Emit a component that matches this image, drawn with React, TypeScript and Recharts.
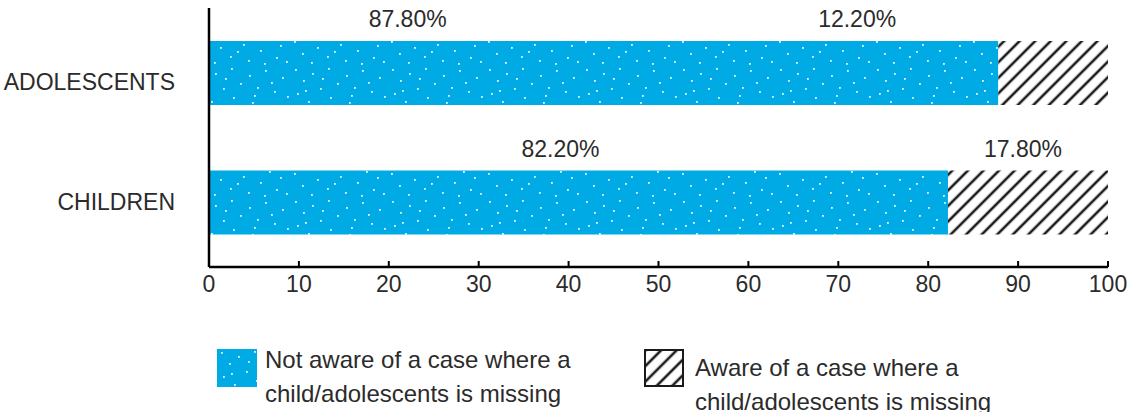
import { BarChart, Bar, XAxis, YAxis, LabelList } from 'recharts';

const groups = ['ADOLESCENTS', 'CHILDREN'];
const notAware = [87.8, 82.2];
const aware = [12.2, 17.8];
const xTicks = [0, 10, 20, 30, 40, 50, 60, 70, 80, 90, 100];
const legendNotAware = ['Not aware of a case where a', 'child/adolescents is missing'];
const legendAware = ['Aware of a case where a', 'child/adolescents is missing'];

const BLUE = '#00aae4';
const INK = '#2b2b2b';
const FONT = '"Liberation Sans", Arial, sans-serif';

// label nudges (px) for each row, so the percentages sit where the report put them
const notAwareShift = [-196, -18];
const awareShift = [-196, -5];
// the ADOLESCENTS caption sits a little below its bar's centre line
const groupLabelDy = [9, 0];

// speckles for the blue fill (one 97x66 tile)
const SPECKS: [number, number][] = [
  [4, 3], [21, 7], [37, 2], [55, 9], [71, 4], [88, 11], [12, 14], [46, 17],
  [63, 21], [80, 25], [29, 22], [6, 27], [93, 30], [39, 31], [58, 36], [17, 35],
  [75, 39], [86, 45], [3, 41], [49, 44], [26, 47], [66, 50], [11, 53], [36, 56],
  [54, 60], [82, 57], [20, 62], [70, 63], [92, 61], [43, 51], [60, 29], [31, 12],
  [77, 16], [14, 24],
];

const data = groups.map((g, i) => ({ group: g, notAware: notAware[i], aware: aware[i] }));

function Patterns({ prefix }: { prefix: string }) {
  return (
    <defs>
      <pattern id={`${prefix}-dots`} patternUnits="userSpaceOnUse" width={97} height={66}>
        <rect width={97} height={66} fill={BLUE} />
        {SPECKS.map(([x, y], i) => (
          <rect key={i} x={x} y={y} width={1.8} height={1.8} fill="#fff" opacity={0.9} />
        ))}
      </pattern>
      <pattern
        id={`${prefix}-hatch`}
        patternUnits="userSpaceOnUse"
        width={11}
        height={11}
        patternTransform="rotate(45)"
      >
        <rect width={11} height={11} fill="#fff" />
        <line x1={2} y1={0} x2={2} y2={11} stroke="#1a1a1a" strokeWidth={2.6} />
      </pattern>
    </defs>
  );
}

const makeLabel = (shift: number[]) => (props: any) => {
  const { x, y, width, value, index } = props;
  return (
    <text
      x={x + width / 2 + shift[index]}
      y={y - 22}
      textAnchor="middle"
      dominantBaseline="central"
      fill={INK}
      fontSize={23}
      fontFamily={FONT}
    >
      {`${Number(value).toFixed(2)}%`}
    </text>
  );
};

const XTick = (props: any) => {
  const { x, y, payload } = props;
  return (
    <g>
      {payload.value !== 0 && <line x1={x} y1={y - 6} x2={x} y2={y} stroke="#000" strokeWidth={2} />}
      <text x={x} y={y + 17} textAnchor="middle" dominantBaseline="central" fill={INK} fontSize={23} fontFamily={FONT}>
        {payload.value}
      </text>
    </g>
  );
};

const YTick = (props: any) => {
  const { x, y, payload, index } = props;
  return (
    <text
      x={x}
      y={y + (groupLabelDy[index] ?? 0)}
      textAnchor="end"
      dominantBaseline="central"
      fill={INK}
      fontSize={23}
      fontFamily={FONT}
    >
      {payload.value}
    </text>
  );
};

function LegendItem({ kind, lines, left, top, textTop }: { kind: 'dots' | 'hatch'; lines: string[]; left: number; top: number; textTop: number }) {
  return (
    <>
      <svg style={{ position: 'absolute', left, top }} width={40} height={38}>
        <Patterns prefix={`lg-${kind}`} />
        <rect
          x={kind === 'hatch' ? 1 : 0}
          y={kind === 'hatch' ? 1 : 0}
          width={kind === 'hatch' ? 38 : 40}
          height={kind === 'hatch' ? 36 : 38}
          fill={`url(#lg-${kind}-${kind})`}
          stroke={kind === 'hatch' ? '#1a1a1a' : 'none'}
          strokeWidth={2}
        />
      </svg>
      <div
        style={{
          position: 'absolute',
          left: left + (kind === 'hatch' ? 51 : 48),
          top: textTop,
          fontFamily: FONT,
          fontSize: 24,
          lineHeight: '34px',
          color: INK,
          whiteSpace: 'nowrap',
        }}
      >
        {lines.map((l) => (
          <div key={l}>{l}</div>
        ))}
      </div>
    </>
  );
}

export default function App() {
  return (
    <div style={{ position: 'absolute', left: 0, top: 0, width: 1128, height: 412, background: '#fff', overflow: 'hidden' }}>
      <BarChart
        width={1128}
        height={412}
        data={data}
        layout="vertical"
        margin={{ top: 8, right: 20, bottom: 115, left: 0 }}
      >
        <Patterns prefix="bar" />
        <XAxis
          type="number"
          domain={[0, 100]}
          ticks={xTicks}
          height={30}
          axisLine={{ stroke: '#000', strokeWidth: 2.5 }}
          tickLine={false}
          tickSize={0}
          tickMargin={0}
          tick={<XTick />}
          interval={0}
        />
        <YAxis
          type="category"
          dataKey="group"
          width={209}
          axisLine={{ stroke: '#000', strokeWidth: 2.5 }}
          tickLine={false}
          tickSize={0}
          tickMargin={34}
          tick={<YTick />}
        />
        <Bar dataKey="notAware" stackId="a" barSize={64} fill="url(#bar-dots)" isAnimationActive={false}>
          <LabelList dataKey="notAware" content={makeLabel(notAwareShift)} />
        </Bar>
        <Bar dataKey="aware" stackId="a" barSize={64} fill="url(#bar-hatch)" isAnimationActive={false}>
          <LabelList dataKey="aware" content={makeLabel(awareShift)} />
        </Bar>
      </BarChart>
      <LegendItem kind="dots" lines={legendNotAware} left={217} top={349} textTop={343} />
      <LegendItem kind="hatch" lines={legendAware} left={644} top={349} textTop={351} />
    </div>
  );
}
